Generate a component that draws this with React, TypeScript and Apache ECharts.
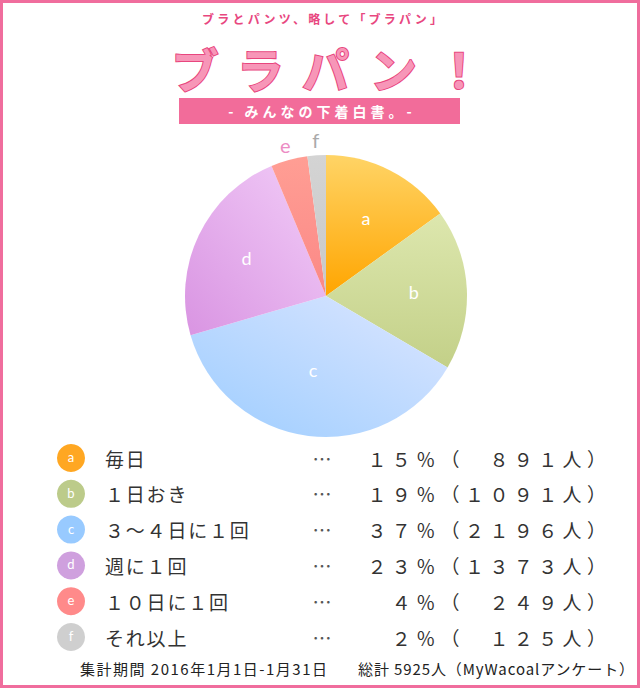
import React, { useEffect, useRef } from "react";
import * as echarts from "echarts";

// ---- data ----
const categories = ["a", "b", "c", "d", "e", "f"];
const labels = ["毎日", "１日おき", "３～４日に１回", "週に１回", "１０日に１回", "それ以上"];
const counts = [891, 1091, 2196, 1373, 249, 125];
const percents = [15, 19, 37, 23, 4, 2];
const topLine = "ブラとパンツ、略して「ブラパン」";
const titleText = "ブラパン！";
const barText = "- みんなの下着白書。-";
const footerLeft = "集計期間 2016年1月1日-1月31日";
const footerRight = "総計 5925人（MyWacoalアンケート）";

// ---- styles ----
const sliceColors: [string, string, number, number, number, number][] = [
  ["#ffd466", "#ffa500", 0.5, 0, 0.5, 1],
  ["#dde7ae", "#c3d088", 0.5, 0, 0.5, 1],
  ["#dde6ff", "#9dcdff", 1, 0, 0, 1],
  ["#f2cdf8", "#d994e2", 1, 0, 0, 1],
  ["#ff9e94", "#fb8886", 0.5, 0, 0.5, 1],
  ["#d4d4d4", "#c8c8c8", 0.5, 0, 0.5, 1],
];
const dotColors = ["#ffa722", "#bccb8a", "#98caff", "#cfa0de", "#ff8a8a", "#cfcfcf"];
const outerLabelColors = ["#fff", "#fff", "#fff", "#fff", "#ec8cc4", "#aaaaaa"];
const PINK = "#f06d9d";
const JP = '"Noto Sans CJK JP", "Noto Sans", sans-serif';

const toFull = (s: string) =>
  s.replace(/[0-9]/g, (d) => String.fromCharCode(d.charCodeAt(0) + 0xfee0));

const pctText = (i: number) => {
  const c = String(counts[i]);
  return (
    toFull(String(percents[i])) +
    "％（" +
    "　".repeat(Math.max(0, 4 - c.length)) +
    toFull(c) +
    "人）"
  );
};

export default function App() {
  const ref = useRef<HTMLDivElement>(null);

  useEffect(() => {
    if (!ref.current) return;
    const chart = echarts.init(ref.current, null, { renderer: "svg" });
    const spacing = new Map<string, number>();

    const txt = (
      text: string,
      x: number,
      y: number,
      size: number,
      fill: string,
      align: "left" | "center" | "right",
      ls: number,
      weight: string = "normal",
      extra: any = {}
    ) => {
      if (ls) spacing.set(text, ls);
      const dx = align === "right" ? ls : align === "center" ? ls / 2 : 0;
      return {
        type: "text",
        x: x + dx,
        y,
        z: 10,
        style: {
          text,
          fontSize: size,
          fontFamily: JP,
          fontWeight: weight,
          fill,
          textAlign: align,
          textVerticalAlign: "middle",
          ...extra,
        },
      };
    };

    const graphics: any[] = [];
    graphics.push(txt(topLine, 322, 18, 12, "#e8477f", "center", 3.2, "bold"));
    graphics.push(
      txt(titleText, 327, 67, 47, "#f796b8", "center", 18.5, "bold", {
        stroke: "#e8467e",
        lineWidth: 2,
      })
    );
    graphics.push({
      type: "rect",
      shape: { x: 179, y: 98, width: 281, height: 26 },
      style: { fill: "#f26c9a" },
      z: 5,
    });
    graphics.push(txt(barText, 320, 111, 14, "#ffffff", "center", 4, "bold"));

    const rowY0 = 458;
    const rowStep = 35.8;
    categories.forEach((cat, i) => {
      const y = rowY0 + i * rowStep;
      graphics.push({
        type: "circle",
        shape: { cx: 71, cy: y, r: 14 },
        style: { fill: dotColors[i] },
        z: 5,
      });
      graphics.push(txt(cat, 71, y - 1, 13, "#ffffff", "center", 0, "normal", { fontFamily: "Lato, sans-serif" }));
      graphics.push(txt(labels[i], 105, y, 19, "#333333", "left", 1.8));
      graphics.push(txt("…", 322, y, 19, "#555555", "center", 0));
      graphics.push(txt(pctText(i), 606, y, 19, "#333333", "right", 5.4));
    });

    graphics.push(txt(footerLeft, 80, 668, 15, "#222222", "left", 1.5));
    graphics.push(txt(footerRight, 358, 668, 15, "#222222", "left", 0.9));

    graphics.push({
      type: "rect",
      shape: { x: 1.5, y: 1.5, width: 637, height: 685 },
      style: { fill: "none", stroke: PINK, lineWidth: 3 },
      z: 20,
    });

    const baseData = categories.map((c, i) => ({
      name: c,
      value: counts[i],
      itemStyle: {
        color: new echarts.graphic.LinearGradient(
          sliceColors[i][2],
          sliceColors[i][3],
          sliceColors[i][4],
          sliceColors[i][5],
          [
            { offset: 0, color: sliceColors[i][0] },
            { offset: 1, color: sliceColors[i][1] },
          ]
        ),
      },
    }));

    const labelData = (show: (i: number) => boolean) =>
      categories.map((c, i) => ({
        name: c,
        value: counts[i],
        itemStyle: { color: "rgba(0,0,0,0)" },
        label: { show: show(i), color: outerLabelColors[i] },
      }));

    const center = [326, 296];

    chart.setOption({
      animation: false,
      backgroundColor: "#ffffff",
      graphic: { elements: graphics },
      series: [
        {
          type: "pie",
          center,
          radius: 141,
          startAngle: 90,
          clockwise: true,
          silent: true,
          label: { show: false },
          labelLine: { show: false },
          itemStyle: { borderWidth: 0 },
          emphasis: { disabled: true },
          data: baseData,
        },
        {
          type: "pie",
          center,
          radius: [40, 130],
          startAngle: 90,
          clockwise: true,
          silent: true,
          label: {
            position: "inside",
            formatter: "{b}",
            fontSize: 18,
            fontFamily: "Lato, 'Noto Sans', sans-serif",
          },
          labelLayout: (p: any) => (p.dataIndex === 2 ? { dy: -13, dx: -2 } : {}),
          labelLine: { show: false },
          emphasis: { disabled: true },
          data: labelData((i) => i < 4),
        },
        {
          type: "pie",
          center,
          radius: [142, 164],
          startAngle: 90,
          clockwise: true,
          silent: true,
          label: {
            position: "inside",
            formatter: "{b}",
            fontSize: 20,
            fontFamily: "Lato, 'Noto Sans', sans-serif",
          },
          labelLine: { show: false },
          emphasis: { disabled: true },
          data: labelData((i) => i >= 4),
        },
      ],
    });

    const applySpacing = () => {
      if (!ref.current) return;
      ref.current.querySelectorAll("text").forEach((el) => {
        const t = el.textContent || "";
        const ls = spacing.get(t);
        if (ls) el.setAttribute("letter-spacing", ls + "px");
      });
    };
    applySpacing();
    chart.on("finished", applySpacing);
    const timer = setTimeout(applySpacing, 0);

    return () => {
      clearTimeout(timer);
      chart.dispose();
    };
  }, []);

  return (
    <div
      ref={ref}
      style={{ position: "absolute", left: 0, top: 0, width: 640, height: 688, background: "#fff" }}
    />
  );
}
